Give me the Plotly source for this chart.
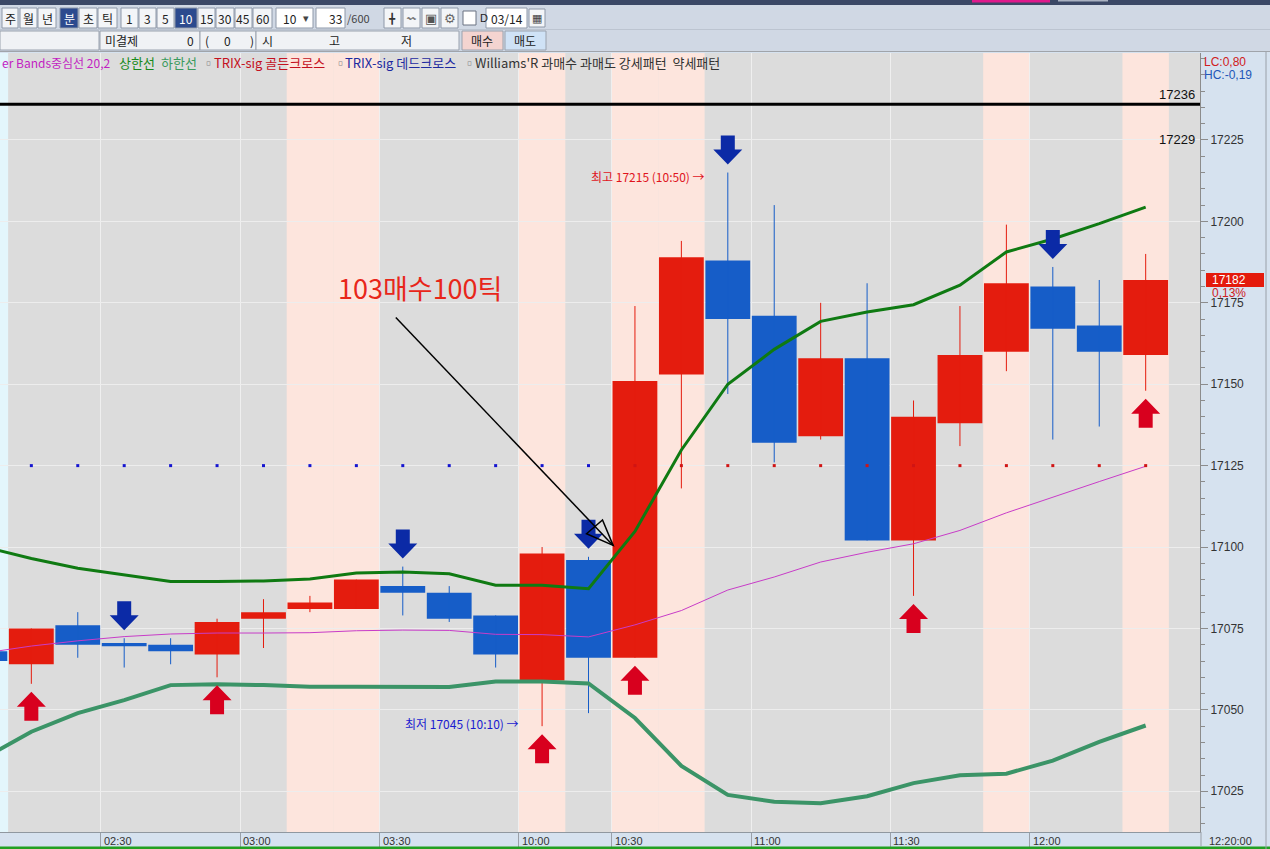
import plotly.graph_objects as go

# ---------------- data (10-minute bars) ----------------
bar_idx = list(range(-1, 25))
bar_time = ["02:00", "02:10", "02:20", "02:30", "02:40", "02:50", "03:00", "03:10", "03:20",
            "03:30", "03:40", "03:50", "10:10", "10:20", "10:30", "10:40", "10:50", "11:00",
            "11:10", "11:20", "11:30", "11:40", "11:50", "12:00", "12:10", "12:20"]
open_ = [17068, 17064, 17076, 17070.5, 17070, 17067, 17078, 17081, 17081, 17088, 17086, 17079, 17059,
         17096, 17066, 17153, 17188, 17171, 17134, 17158, 17102, 17138, 17160, 17180, 17168, 17159]
close = [17065, 17075, 17070, 17069.5, 17068, 17077, 17080, 17083, 17090, 17086, 17078, 17067, 17098,
         17066, 17151, 17189, 17170, 17132, 17158, 17102, 17140, 17159, 17181, 17167, 17160, 17182]
high = [17070, 17075, 17080, 17072, 17072, 17078, 17084, 17085, 17090, 17094, 17088, 17079, 17100,
        17097, 17174, 17194, 17215, 17205, 17175, 17181, 17145, 17174, 17199, 17186, 17182, 17190]
low = [17062, 17058, 17066, 17063, 17064, 17060, 17069, 17080, 17081, 17079, 17077, 17063, 17045,
       17049, 17066, 17118, 17147, 17126, 17133, 17102, 17085, 17131, 17154, 17133, 17137, 17148]

# Bollinger Bands (20,2)
bb_upper = [17100, 17096.5, 17093.5, 17091.4, 17089.4, 17089.4, 17089.6, 17090.2, 17092, 17092.3,
            17091.8, 17088.3, 17088.3, 17087.2, 17104.8, 17129.8, 17150, 17160.7, 17169.3, 17172.2,
            17174.4, 17180.4, 17190.6, 17194.6, 17199.3, 17204.4]
bb_mid = [17067.5, 17069.6, 17071.2, 17072.5, 17073.3, 17073.6, 17073.6, 17073.7, 17074.3, 17074.5,
          17074.4, 17073.2, 17073.1, 17072.4, 17076.1, 17080.5, 17086.8, 17090.8, 17095.4, 17098.4,
          17101, 17105.1, 17110.5, 17115.4, 17120.1, 17124.8]
bb_lower = [17035.3, 17043.3, 17049, 17053, 17057.6, 17057.9, 17057.6, 17057.1, 17057.1, 17057.1,
            17057, 17058.7, 17058.7, 17058.1, 17047.5, 17032.8, 17023.9, 17021.8, 17021.3, 17023.5,
            17027.5, 17029.9, 17030.4, 17034.4, 17040.2, 17045.2]

# Williams %R state marks (b = bearish/blue, r = bullish/red)
wr_state = ["b", "b", "b", "b", "b", "b", "b", "b", "b", "b", "b", "b", "b",
            "b", "r", "r", "r", "r", "r", "r", "r", "r", "r", "r", "r", "r"]
wr_level = 17125

# TRIX-sig signals (bar indices)
golden_cross = [0, 4, 11, 13, 19, 24]
dead_cross = [2, 8, 12, 15, 22]

# background highlight bars
pink_bars = [6, 7, 11, 13, 14, 21, 24]
cyan_bars = [-1]

ref_line = 17236
ref_label2 = 17229
change_pct = "0,13%"

tick_pos = [1.5, 4.5, 7.5, 10.5, 12.5, 15.5, 18.5, 21.5]
tick_text = ["02:30", "03:00", "03:30", "10:00", "10:30", "11:00", "11:30", "12:00"]
price_ticks = [17025, 17050, 17075, 17100, 17125, 17150, 17175, 17200, 17225]

# ---------------- layout constants ----------------
W, H = 1270, 849
PLOT_R = 1200
PLOT_T, PLOT_B = 53, 832
X_RANGE = [-0.675, 25.17]
Y_RANGE = [17012.5, 17251.7]

RED = "#e41c0e"
BLUE = "#165dc8"
KR = "Noto Sans CJK KR"
NUM = "Liberation Sans Narrow, Liberation Sans, Arial"


def px(x):
    return x / W


def py(y):
    return 1 - y / H


fig = go.Figure()
shapes = []
ann = []

# highlight bands
for i in pink_bars:
    shapes.append(dict(type="rect", xref="x", yref="y domain", x0=i - 0.5, x1=i + 0.5, y0=0, y1=1,
                       fillcolor="#fde5dd", line_width=0, layer="below"))
for i in cyan_bars:
    shapes.append(dict(type="rect", xref="x", yref="y domain", x0=i - 0.5, x1=i + 0.5, y0=0, y1=1,
                       fillcolor="#e3f6fc", line_width=0, layer="below"))

# candles
inc = [k for k in range(len(bar_idx)) if close[k] >= open_[k]]
dec = [k for k in range(len(bar_idx)) if close[k] < open_[k]]
for ks, col in ((inc, RED), (dec, BLUE)):
    wx, wy = [], []
    for k in ks:
        wx += [bar_idx[k], bar_idx[k], None]
        wy += [low[k], high[k], None]
    fig.add_trace(go.Scatter(x=wx, y=wy, mode="lines", line=dict(color=col, width=1),
                             hoverinfo="skip", showlegend=False))
    fig.add_trace(go.Bar(x=[bar_idx[k] for k in ks],
                         y=[abs(close[k] - open_[k]) for k in ks],
                         base=[min(close[k], open_[k]) for k in ks],
                         width=0.965, marker=dict(color=col, line=dict(width=0)),
                         showlegend=False))

# bands
fig.add_trace(go.Scatter(x=bar_idx, y=bb_mid, mode="lines", line=dict(color="#c83cc8", width=1),
                         showlegend=False))
fig.add_trace(go.Scatter(x=bar_idx, y=bb_upper, mode="lines", line=dict(color="#0f7a12", width=3),
                         showlegend=False))
fig.add_trace(go.Scatter(x=bar_idx, y=bb_lower, mode="lines", line=dict(color="#3b9467", width=4),
                         showlegend=False))

# Williams %R marks
fig.add_trace(go.Scatter(x=bar_idx, y=[wr_level] * len(bar_idx), mode="markers",
                         marker=dict(symbol="square", size=3,
                                     color=["#1414d0" if s == "b" else "#d01414" for s in wr_state]),
                         showlegend=False))

# TRIX arrows
down_path = "M-7,37L7,37L7,23L14.5,23L0,8L-14.5,23L-7,23Z"
up_path = "M-7,-37L7,-37L7,-23L14.5,-23L0,-8L-14.5,-23L-7,-23Z"
for i in dead_cross:
    k = bar_idx.index(i)
    shapes.append(dict(type="path", xref="x", yref="y", xsizemode="pixel", ysizemode="pixel",
                       xanchor=i, yanchor=high[k], path=down_path, fillcolor="#0b2aa6",
                       line_width=0, layer="above"))
for i in golden_cross:
    k = bar_idx.index(i)
    shapes.append(dict(type="path", xref="x", yref="y", xsizemode="pixel", ysizemode="pixel",
                       xanchor=i, yanchor=low[k], path=up_path, fillcolor="#d8001e",
                       line_width=0, layer="above"))

# reference line
shapes.append(dict(type="line", xref="x domain", yref="y", x0=0, x1=1, y0=ref_line, y1=ref_line,
                   line=dict(color="black", width=3), layer="above"))
ann.append(dict(text=str(ref_line), xref="paper", yref="y", x=px(1197), y=ref_line, xanchor="right",
                yanchor="bottom", yshift=0, showarrow=False, font=dict(family=NUM, size=13, color="#111")))
ann.append(dict(text=str(ref_label2), xref="paper", yref="y", x=px(1197), y=ref_label2, xanchor="right",
                yanchor="middle", yshift=-13, showarrow=False, font=dict(family=NUM, size=13, color="#111")))

# high / low labels
hi_k = high.index(max(high[1:]))
lo_k = low.index(min(low[1:]))
ann.append(dict(text=f"최고 {high[hi_k]} ({bar_time[hi_k]}) →", xref="x", yref="y",
                x=bar_idx[hi_k] - 0.5, y=high[hi_k], xanchor="right", yanchor="middle", xshift=2, yshift=-4,
                showarrow=False, font=dict(family=KR, size=12, color="#e0141c")))
ann.append(dict(text=f"최저 {low[lo_k]} ({bar_time[lo_k]}) →", xref="x", yref="y",
                x=bar_idx[lo_k] - 0.5, y=low[lo_k], xanchor="right", yanchor="middle", xshift=2, yshift=3,
                showarrow=False, font=dict(family=KR, size=12, color="#1a1ad0")))

# user drawn annotation
ann.append(dict(text="103매수100틱", xref="x", yref="y", x=8.37, y=17179.6, showarrow=False,
                font=dict(family=KR, size=27, color="#e8261a")))
shapes.append(dict(type="line", xref="x", yref="y", x0=7.85, y0=17170.5, x1=12.53, y1=17100.5,
                   line=dict(color="black", width=1.5), layer="above"))
shapes.append(dict(type="path", xref="x", yref="y", xsizemode="pixel", ysizemode="pixel",
                   xanchor=12.53, yanchor=17100.5, path="M0,0L-10.6,25.5L-26.6,11.7Z",
                   fillcolor="rgba(0,0,0,0)", line=dict(color="black", width=1.5), layer="above"))

# indicator legend line (first item is clipped by the window in the reference)
legend_items = [
    (0, "er Bands중심선 20,2", "#c21cc2", 12),
    (117, "상한선", "#178a1a", 13),
    (159, "하한선", "#3a9a5c", 13),
    (200, "▫", "#888888", 13),
    (212, "TRIX-sig 골든크로스", "#c4101e", 13),
    (332, "▫", "#888888", 13),
    (343, "TRIX-sig 데드크로스", "#1c2aa0", 13),
    (461, "▫", "#888888", 13),
    (473, "Williams'R 과매수 과매도 강세패턴  약세패턴", "#333333", 13),
]
for x0, t, c, s in legend_items:
    ann.append(dict(text=t, xref="paper", yref="paper", x=px(x0), y=py(63), xanchor="left",
                    yanchor="middle", showarrow=False, font=dict(family=KR, size=s, color=c)))

# right axis extras
ann.append(dict(text="LC:0,80", xref="paper", yref="paper", x=px(1202), y=py(62), xanchor="left",
                yanchor="middle", showarrow=False, font=dict(family=NUM, size=12, color="#d02020")))
ann.append(dict(text="HC:-0,19", xref="paper", yref="paper", x=px(1202), y=py(75), xanchor="left",
                yanchor="middle", showarrow=False, font=dict(family=NUM, size=12, color="#2256b8")))
last = close[-1]
shapes.append(dict(type="rect", xref="paper", yref="y", ysizemode="pixel", yanchor=last,
                   x0=px(1206), x1=px(1264), y0=-7, y1=7, fillcolor="#e41a0c", line_width=0, layer="above"))
ann.append(dict(text=str(last), xref="paper", yref="y", x=px(1210), y=last, xanchor="left",
                yanchor="middle", showarrow=False, font=dict(family=NUM, size=12, color="white")))
ann.append(dict(text=change_pct, xref="paper", yref="y", x=px(1210), y=last, yshift=-13,
                xanchor="left", yanchor="middle", showarrow=False,
                font=dict(family=NUM, size=12, color="#d02020")))

# bottom time labels
for tv, tt in zip(tick_pos, tick_text):
    ann.append(dict(text=tt, xref="x", yref="paper", x=tv, y=py(841), xanchor="left", yanchor="middle",
                    xshift=1, showarrow=False, font=dict(family=NUM, size=11, color="#333")))
ann.append(dict(text=bar_time[-1] + ":00", xref="paper", yref="paper", x=px(1207), y=py(841),
                xanchor="left", yanchor="middle", showarrow=False,
                font=dict(family=NUM, size=11, color="#333")))

# window chrome: bottom green line, right border
shapes.append(dict(type="rect", xref="paper", yref="paper", x0=0, x1=1, y0=0, y1=py(846.5),
                   fillcolor="#22a022", line_width=0, layer="above"))
shapes.append(dict(type="line", xref="paper", yref="paper", x0=px(1266), x1=px(1266), y0=0, y1=py(52),
                   line=dict(color="#9aa0a8", width=1), layer="above"))
shapes.append(dict(type="line", xref="paper", yref="paper", x0=px(1201), x1=px(1201), y0=py(846),
                   y1=py(832), line=dict(color="#9aa0a8", width=1), layer="above"))

# ---------------- toolbar ----------------
shapes.append(dict(type="rect", xref="paper", yref="paper", x0=0, x1=1, y0=py(52), y1=1,
                   fillcolor="#d0d8e4", line_width=0, layer="above"))
shapes.append(dict(type="rect", xref="paper", yref="paper", x0=0, x1=1, y0=py(5), y1=1,
                   fillcolor="#3b4866", line_width=0, layer="above"))
shapes.append(dict(type="rect", xref="paper", yref="paper", x0=px(972), x1=px(1050), y0=py(2.5), y1=1,
                   fillcolor="#e0198c", line_width=0, layer="above"))
shapes.append(dict(type="rect", xref="paper", yref="paper", x0=px(1058), x1=px(1108), y0=py(1.5), y1=1,
                   fillcolor="#aab2c2", line_width=0, layer="above"))
shapes.append(dict(type="line", xref="paper", yref="paper", x0=0, x1=1, y0=py(51.5), y1=py(51.5),
                   line=dict(color="#a0a4aa", width=1), layer="above"))
shapes.append(dict(type="line", xref="paper", yref="paper", x0=0, x1=1, y0=py(29.5), y1=py(29.5),
                   line=dict(color="#bcc4d0", width=1), layer="above"))

buttons = [
    (2, 18, "주", False), (20, 37, "월", False), (38, 56, "년", False), (60, 78, "분", True),
    (79, 97, "초", False), (98, 117, "틱", False), (121, 138, "1", False), (139, 156, "3", False),
    (157, 174, "5", False), (175, 197, "10", True), (198, 215, "15", False), (216, 234, "30", False),
    (235, 252, "45", False), (253, 272, "60", False),
]
for x0, x1, t, sel in buttons:
    shapes.append(dict(type="rect", xref="paper", yref="paper", x0=px(x0), x1=px(x1), y0=py(28),
                       y1=py(8), fillcolor="#2c4a8e" if sel else "#f3f5f8",
                       line=dict(color="#8e98a8", width=1), layer="above"))
    ann.append(dict(text=t, xref="paper", yref="paper", x=px((x0 + x1) / 2), y=py(18), showarrow=False,
                    xanchor="center", yanchor="middle",
                    font=dict(family=KR, size=12, color="white" if sel else "#222")))

# dropdown 10
shapes.append(dict(type="rect", xref="paper", yref="paper", x0=px(276), x1=px(313), y0=py(28), y1=py(8),
                   fillcolor="white", line=dict(color="#8e98a8", width=1), layer="above"))
ann.append(dict(text="10", xref="paper", yref="paper", x=px(281), y=py(18), xanchor="left", yanchor="middle",
                showarrow=False, font=dict(family=KR, size=12, color="#222")))
ann.append(dict(text="▾", xref="paper", yref="paper", x=px(306), y=py(18), xanchor="center", yanchor="middle",
                showarrow=False, font=dict(family="DejaVu Sans", size=11, color="#444")))
# count input
shapes.append(dict(type="rect", xref="paper", yref="paper", x0=px(316), x1=px(345), y0=py(28), y1=py(8),
                   fillcolor="white", line=dict(color="#8e98a8", width=1), layer="above"))
ann.append(dict(text="33", xref="paper", yref="paper", x=px(344), y=py(18), xanchor="right", yanchor="middle",
                showarrow=False, font=dict(family=KR, size=12, color="#222")))
ann.append(dict(text="/600", xref="paper", yref="paper", x=px(345), y=py(18), xanchor="left",
                yanchor="middle", showarrow=False, font=dict(family=KR, size=11, color="#444")))
# icons
for x0 in (384, 403, 422, 441):
    shapes.append(dict(type="rect", xref="paper", yref="paper", x0=px(x0), x1=px(x0 + 17), y0=py(28),
                       y1=py(8), fillcolor="#f3f5f8", line=dict(color="#8e98a8", width=1), layer="above"))
icon_text = [(392.5, "╋", "#333", 10), (411.5, "〰", "#777", 9), (430.5, "▣", "#555", 13), (449.5, "⚙", "#666", 13)]
for x0, t, c, s in icon_text:
    ann.append(dict(text=t, xref="paper", yref="paper", x=px(x0), y=py(18), xanchor="center",
                    yanchor="middle", showarrow=False, font=dict(family="DejaVu Sans", size=s, color=c)))
# checkbox + date
shapes.append(dict(type="rect", xref="paper", yref="paper", x0=px(463), x1=px(476), y0=py(25), y1=py(11),
                   fillcolor="white", line=dict(color="#6a7282", width=1), layer="above"))
ann.append(dict(text="D", xref="paper", yref="paper", x=px(478), y=py(18), xanchor="left", yanchor="middle",
                showarrow=False, font=dict(family=NUM, size=11, color="#222")))
shapes.append(dict(type="rect", xref="paper", yref="paper", x0=px(486), x1=px(527), y0=py(28), y1=py(8),
                   fillcolor="white", line=dict(color="#8e98a8", width=1), layer="above"))
ann.append(dict(text="03/14", xref="paper", yref="paper", x=px(489), y=py(18), xanchor="left",
                yanchor="middle", showarrow=False, font=dict(family=KR, size=12, color="#222")))
shapes.append(dict(type="rect", xref="paper", yref="paper", x0=px(529), x1=px(545), y0=py(27), y1=py(9),
                   fillcolor="#f3f5f8", line=dict(color="#8e98a8", width=1), layer="above"))
ann.append(dict(text="▦", xref="paper", yref="paper", x=px(537), y=py(18), showarrow=False,
                xanchor="center", yanchor="middle",
                font=dict(family="DejaVu Sans", size=11, color="#444")))

# second row
row2 = [(0, 99, "#f0f2f5"), (100, 200, "#f0f2f5"), (200, 256, "#f0f2f5"), (256, 459, "#f0f2f5"),
        (462, 503, "#f4d4d0"), (505, 546, "#cfe2f6")]
for x0, x1, c in row2:
    shapes.append(dict(type="rect", xref="paper", yref="paper", x0=px(x0), x1=px(x1), y0=py(50),
                       y1=py(31), fillcolor=c, line=dict(color="#9aa2ae", width=1), layer="above"))
row2_text = [(103, "미결제", "left"), (196, "0", "right"), (203, "(", "left"), (222, "0", "left"),
             (248, ")", "left"), (260, "시", "left"), (327, "고", "left"), (399, "저", "left"),
             (482, "매수", "center"), (525, "매도", "center")]
for x0, t, anc in row2_text:
    ann.append(dict(text=t, xref="paper", yref="paper", x=px(x0), y=py(40.5), xanchor=anc,
                    yanchor="middle", showarrow=False, font=dict(family=KR, size=12, color="#222")))

# ---------------- layout ----------------
fig.update_layout(
    width=W, height=H, autosize=False,
    margin=dict(l=0, r=0, t=0, b=0),
    paper_bgcolor="#d6e2ef",
    plot_bgcolor="#dcdcdc",
    barmode="overlay",
    showlegend=False,
    shapes=shapes,
    annotations=ann,
    xaxis=dict(domain=[0, PLOT_R / W], range=X_RANGE, tickmode="array", tickvals=tick_pos,
               showticklabels=False, ticks="outside", ticklen=14, tickcolor="#9aa0a8",
               showgrid=True, gridcolor="#efefef", gridwidth=1, zeroline=False,
               showline=True, linecolor="#9098a0", linewidth=1, fixedrange=True),
    yaxis=dict(domain=[py(PLOT_B), py(PLOT_T)], range=Y_RANGE, side="right", tickmode="array",
               tickvals=price_ticks, ticktext=[str(v) for v in price_ticks],
               ticks="outside", ticklen=7, tickcolor="#8c8c8c",
               tickfont=dict(family=NUM, size=12, color="#333"),
               showgrid=True, gridcolor="#ededed", gridwidth=1, zeroline=False,
               showline=True, linecolor="#8c8c8c", linewidth=1, fixedrange=True,
               minor=dict(tick0=17000, dtick=5, ticks="outside", ticklen=4, tickcolor="#8c8c8c",
                          showgrid=False)),
)

fig.write_html("out.html", config={"displayModeBar": False},
               post_script="document.body.style.margin='0';document.body.style.overflow='hidden';")
